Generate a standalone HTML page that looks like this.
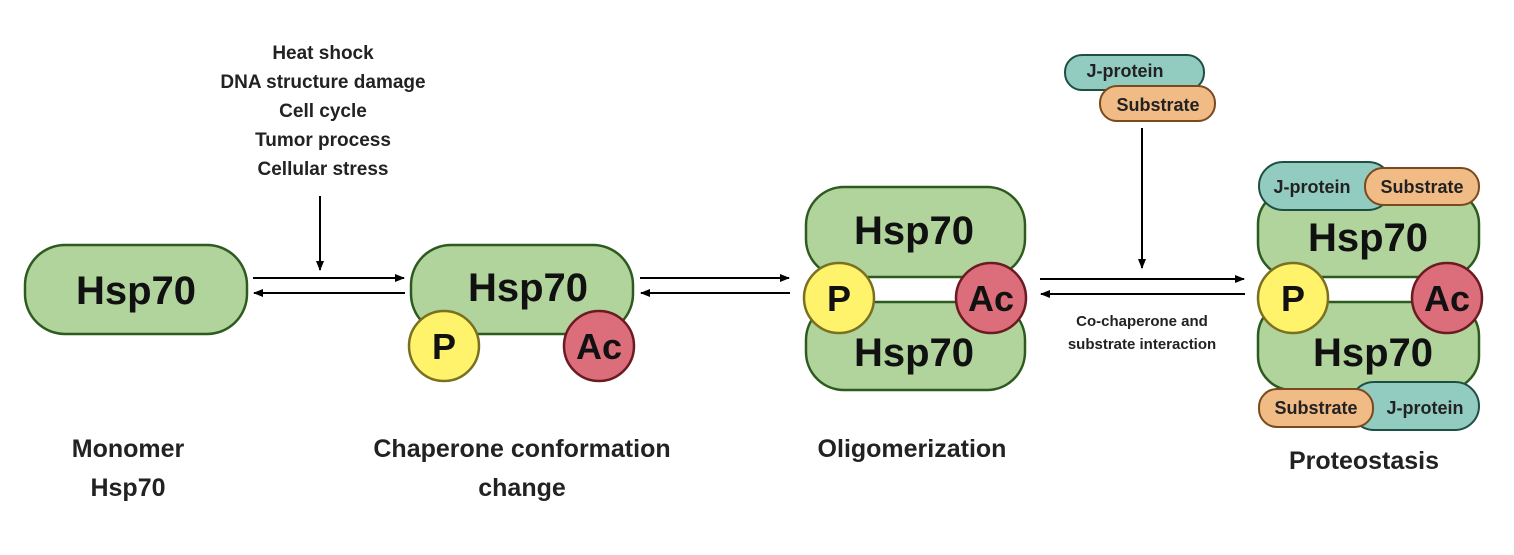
<!DOCTYPE html>
<html><head><style>html,body{margin:0;padding:0;background:#fff}</style></head><body>
<svg width="1514" height="550" xmlns="http://www.w3.org/2000/svg" font-family="Liberation Sans, Arial, sans-serif">
<defs>
<marker id="ah" markerWidth="10" markerHeight="8" refX="9" refY="4" orient="auto" markerUnits="userSpaceOnUse"><path d="M0,0 L10,4 L0,8 z" fill="#000"/></marker>
</defs>
<rect width="1514" height="550" fill="#fff"/>
<g fill="#222" font-weight="bold" font-size="19" text-anchor="middle">
<text x="323" y="59">Heat shock</text>
<text x="323" y="88">DNA structure damage</text>
<text x="323" y="117">Cell cycle</text>
<text x="323" y="146">Tumor process</text>
<text x="323" y="175">Cellular stress</text>
</g>
<g stroke="#000" stroke-width="2" fill="none" marker-end="url(#ah)">
<line x1="320" y1="196" x2="320" y2="270"/>
<line x1="253" y1="278" x2="404" y2="278"/>
<line x1="405" y1="293" x2="254" y2="293"/>
<line x1="640" y1="278" x2="789" y2="278"/>
<line x1="790" y1="293" x2="641" y2="293"/>
<line x1="1142" y1="128" x2="1142" y2="268"/>
<line x1="1040" y1="279" x2="1244" y2="279"/>
<line x1="1245" y1="294" x2="1041" y2="294"/>
</g>
<g fill="#b0d49c" stroke="#2d5a1e" stroke-width="2.5">
<rect x="25" y="245" width="222" height="89" rx="40"/>
<rect x="411" y="245" width="222" height="89" rx="40"/>
<rect x="806" y="187" width="219" height="90" rx="38"/>
<rect x="806" y="302" width="219" height="88" rx="38"/>
<rect x="1258" y="190" width="221" height="87" rx="34"/>
<rect x="1258" y="302" width="221" height="88" rx="34"/>
</g>
<g fill="#111" font-weight="bold" font-size="40" text-anchor="middle">
<text x="136" y="304">Hsp70</text>
<text x="528" y="301">Hsp70</text>
<text x="914" y="244">Hsp70</text>
<text x="914" y="366">Hsp70</text>
<text x="1368" y="251">Hsp70</text>
<text x="1373" y="366">Hsp70</text>
</g>
<g stroke-width="2.5">
<circle cx="444" cy="346" r="35" fill="#fff36b" stroke="#7a7020"/>
<circle cx="599" cy="346" r="35" fill="#db6e7a" stroke="#6b1a22"/>
<circle cx="839" cy="298" r="35" fill="#fff36b" stroke="#7a7020"/>
<circle cx="991" cy="298" r="35" fill="#db6e7a" stroke="#6b1a22"/>
<circle cx="1293" cy="298" r="35" fill="#fff36b" stroke="#7a7020"/>
<circle cx="1447" cy="298" r="35" fill="#db6e7a" stroke="#6b1a22"/>
</g>
<g fill="#111" font-weight="bold" font-size="36" text-anchor="middle">
<text x="444" y="359">P</text>
<text x="599" y="359">Ac</text>
<text x="839" y="311">P</text>
<text x="991" y="311">Ac</text>
<text x="1293" y="311">P</text>
<text x="1447" y="311">Ac</text>
</g>
<g stroke-width="2">
<rect x="1065" y="55" width="139" height="35" rx="17" fill="#92cbc0" stroke="#1f4e45"/>
<rect x="1100" y="86" width="115" height="35" rx="17" fill="#f1bb86" stroke="#7a4a1e"/>
<rect x="1259" y="162" width="133" height="48" rx="24" fill="#92cbc0" stroke="#1f4e45"/>
<rect x="1365" y="168" width="114" height="37" rx="18" fill="#f1bb86" stroke="#7a4a1e"/>
<rect x="1350" y="382" width="129" height="48" rx="24" fill="#92cbc0" stroke="#1f4e45"/>
<rect x="1259" y="389" width="114" height="38" rx="18" fill="#f1bb86" stroke="#7a4a1e"/>
</g>
<g fill="#222" font-weight="bold" font-size="18" text-anchor="middle">
<text x="1125" y="77">J-protein</text>
<text x="1158" y="111">Substrate</text>
<text x="1312" y="193">J-protein</text>
<text x="1422" y="193">Substrate</text>
<text x="1316" y="414">Substrate</text>
<text x="1425" y="414">J-protein</text>
</g>
<g fill="#222" font-weight="bold" font-size="15" text-anchor="middle">
<text x="1142" y="326">Co-chaperone and</text>
<text x="1142" y="349">substrate interaction</text>
</g>
<g fill="#222" font-weight="bold" font-size="25" text-anchor="middle">
<text x="128" y="457">Monomer</text>
<text x="128" y="496">Hsp70</text>
<text x="522" y="457">Chaperone conformation</text>
<text x="522" y="496">change</text>
<text x="912" y="457">Oligomerization</text>
<text x="1364" y="469">Proteostasis</text>
</g>
</svg>
</body></html>
